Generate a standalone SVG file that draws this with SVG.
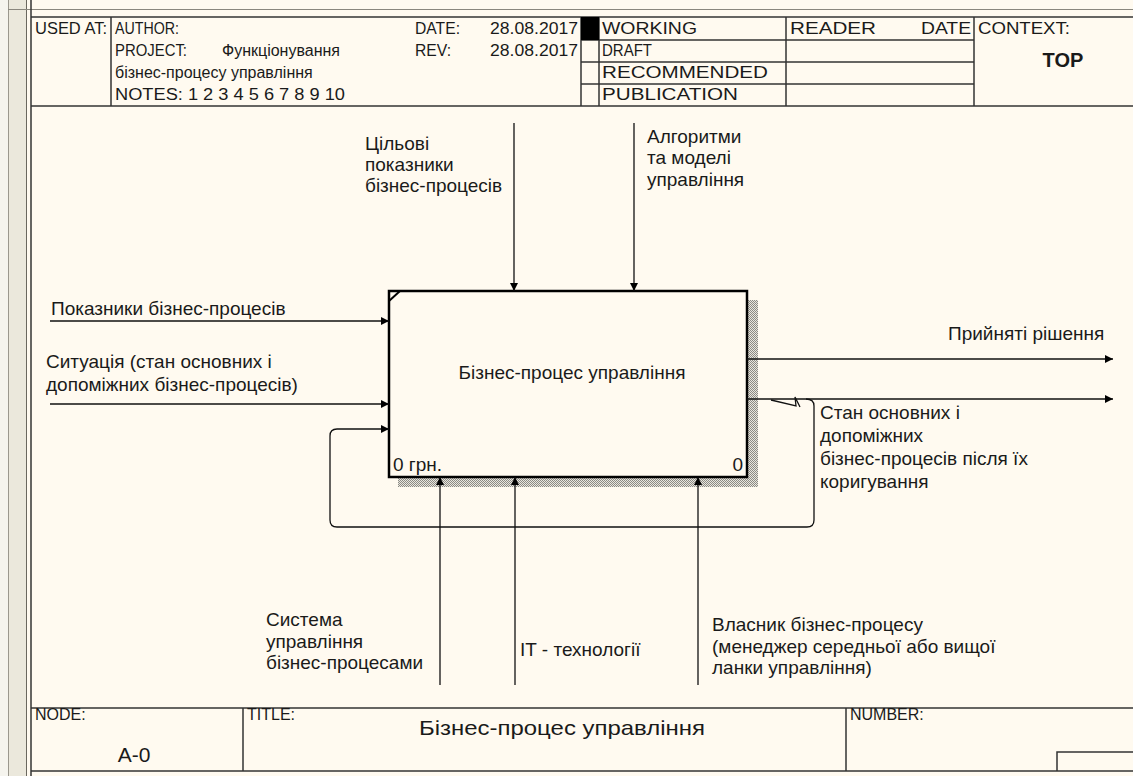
<svg xmlns="http://www.w3.org/2000/svg" width="1133" height="776" viewBox="0 0 1133 776">
<defs>
<style>
.t{font-family:"Liberation Sans",Arial,sans-serif;font-size:19px;fill:#1a1a1a}
.h{font-family:"Liberation Sans",Arial,sans-serif;font-size:16px;fill:#1a1a1a}
.fr{stroke:#333;stroke-width:1.5;fill:none}
.ar{stroke:#111;stroke-width:1.3;fill:none}
</style>
<marker id="ah" viewBox="0 0 10 10" refX="10" refY="5" markerWidth="9" markerHeight="8" markerUnits="userSpaceOnUse" orient="auto">
<path d="M0,0 L10,5 L0,10 Z" fill="#000"/>
</marker>
<pattern id="hatch" width="2" height="2" patternUnits="userSpaceOnUse">
<rect width="2" height="2" fill="#e8e6de"/>
<rect width="1" height="1" fill="#8c8a84"/>
<rect x="1" y="1" width="1" height="1" fill="#8c8a84"/>
</pattern>
</defs>

<rect width="1133" height="776" fill="#fffaf0"/>
<g id="window-edge">
<rect x="0" y="0" width="8" height="776" fill="#f5f4ee"/>
<rect x="9" y="0" width="17" height="776" fill="#ebe8dc"/>
<line x1="8.5" y1="0" x2="8.5" y2="776" stroke="#9a978e"/>
<line x1="26.5" y1="0" x2="26.5" y2="776" stroke="#6a675e"/>
<line x1="8" y1="9.5" x2="1133" y2="9.5" stroke="#8a877e"/>
<line x1="31" y1="0" x2="31" y2="776" stroke="#333" stroke-width="1.5"/>
</g>

<g id="header">
<line class="fr" x1="31" y1="17" x2="1133" y2="17"/>
<line class="fr" x1="31" y1="106" x2="1133" y2="106"/>
<line class="fr" x1="111" y1="17" x2="111" y2="106"/>
<line class="fr" x1="581" y1="17" x2="581" y2="106"/>
<line class="fr" x1="599" y1="17" x2="599" y2="106"/>
<line class="fr" x1="786" y1="17" x2="786" y2="106"/>
<line class="fr" x1="974" y1="17" x2="974" y2="106"/>
<line class="fr" x1="581" y1="40" x2="974" y2="40"/>
<line class="fr" x1="581" y1="62" x2="974" y2="62"/>
<line class="fr" x1="581" y1="84" x2="974" y2="84"/>
<rect x="581" y="17" width="18" height="23" fill="#000"/>
<text class="h" x="35" y="34" textLength="72" lengthAdjust="spacingAndGlyphs">USED AT:</text>
<text class="h" x="115" y="34" textLength="64" lengthAdjust="spacingAndGlyphs">AUTHOR:</text>
<text class="h" x="415" y="34" textLength="45" lengthAdjust="spacingAndGlyphs">DATE:</text>
<text class="h" x="490" y="34" textLength="88" lengthAdjust="spacingAndGlyphs">28.08.2017</text>
<text class="h" x="115" y="56" textLength="72" lengthAdjust="spacingAndGlyphs">PROJECT:</text>
<text class="h" x="222" y="56">Функціонування</text>
<text class="h" x="415" y="56" textLength="36" lengthAdjust="spacingAndGlyphs">REV:</text>
<text class="h" x="490" y="56" textLength="88" lengthAdjust="spacingAndGlyphs">28.08.2017</text>
<text class="h" x="115" y="78">бізнес-процесу управління</text>
<text class="h" x="115" y="100" textLength="230" lengthAdjust="spacingAndGlyphs">NOTES: 1 2 3 4 5 6 7 8 9 10</text>
<text class="h" x="602" y="34" textLength="95" lengthAdjust="spacingAndGlyphs">WORKING</text>
<text class="h" x="602" y="56" textLength="50" lengthAdjust="spacingAndGlyphs">DRAFT</text>
<text class="h" x="602" y="78" textLength="166" lengthAdjust="spacingAndGlyphs">RECOMMENDED</text>
<text class="h" x="602" y="100" textLength="136" lengthAdjust="spacingAndGlyphs">PUBLICATION</text>
<text class="h" x="790" y="34" textLength="86" lengthAdjust="spacingAndGlyphs">READER</text>
<text class="h" x="921" y="34" textLength="50" lengthAdjust="spacingAndGlyphs">DATE</text>
<text class="h" x="978" y="34" textLength="92" lengthAdjust="spacingAndGlyphs">CONTEXT:</text>
<text class="h" x="1063" y="67" text-anchor="middle" style="font-size:20px;font-weight:bold">TOP</text>
</g>

<g id="node-A0">
<rect x="398" y="300" width="360" height="187" fill="url(#hatch)"/>
<rect x="389" y="291" width="358" height="186" fill="#fffaf0" stroke="#000" stroke-width="2.5"/>
<line x1="389" y1="301" x2="400" y2="291" stroke="#000" stroke-width="2"/>
<text class="t" x="572" y="379" text-anchor="middle">Бізнес-процес управління</text>
<text class="t" x="393" y="471">0 грн.</text>
<text class="t" x="743" y="471" text-anchor="end">0</text>
</g>

<g id="connectors">
<line class="ar" x1="514" y1="123" x2="514" y2="291" marker-end="url(#ah)"/>
<line class="ar" x1="634" y1="123" x2="634" y2="291" marker-end="url(#ah)"/>
<line class="ar" x1="50" y1="321" x2="389" y2="321" marker-end="url(#ah)"/>
<line class="ar" x1="50" y1="404" x2="389" y2="404" marker-end="url(#ah)"/>
<line class="ar" x1="747" y1="359" x2="1113" y2="359" marker-end="url(#ah)"/>
<line class="ar" x1="747" y1="399" x2="1113" y2="399" marker-end="url(#ah)"/>
<path class="ar" d="M806 399 Q814 399 814 406 L814 520 Q814 527 807 527 L337 527 Q330 527 330 520 L330 436 Q330 429 337 429 L389 429" marker-end="url(#ah)"/>
<path class="ar" d="M771 400 L796 406 L795 397 L800 407"/>
<line class="ar" x1="440" y1="685" x2="440" y2="477" marker-end="url(#ah)"/>
<line class="ar" x1="515" y1="685" x2="515" y2="477" marker-end="url(#ah)"/>
<line class="ar" x1="698" y1="685" x2="698" y2="477" marker-end="url(#ah)"/>
</g>

<g id="labels">
<text class="t" x="365" y="150">Цільові</text>
<text class="t" x="365" y="171">показники</text>
<text class="t" x="365" y="192">бізнес-процесів</text>
<text class="t" x="647" y="143">Алгоритми</text>
<text class="t" x="647" y="164">та моделі</text>
<text class="t" x="647" y="186">управління</text>
<text class="t" x="51" y="315">Показники бізнес-процесів</text>
<text class="t" x="46" y="368">Ситуація (стан основних і</text>
<text class="t" x="46" y="391">допоміжних бізнес-процесів)</text>
<text class="t" x="948" y="340">Прийняті рішення</text>
<text class="t" x="820" y="419">Стан основних і</text>
<text class="t" x="820" y="442">допоміжних</text>
<text class="t" x="820" y="465">бізнес-процесів після їх</text>
<text class="t" x="820" y="488">коригування</text>
<text class="t" x="266" y="626">Система</text>
<text class="t" x="266" y="648">управління</text>
<text class="t" x="266" y="669">бізнес-процесами</text>
<text class="t" x="520" y="656">IT - технології</text>
<text class="t" x="712" y="631">Власник бізнес-процесу</text>
<text class="t" x="712" y="653">(менеджер середньої або вищої</text>
<text class="t" x="712" y="674">ланки управління)</text>
</g>

<g id="footer">
<line class="fr" x1="31" y1="708" x2="1133" y2="708"/>
<line class="fr" x1="31" y1="771" x2="1133" y2="771"/>
<line class="fr" x1="243" y1="708" x2="243" y2="771"/>
<line class="fr" x1="846" y1="708" x2="846" y2="771"/>
<polyline class="fr" points="1057,771 1057,752 1133,752"/>
<text class="h" x="35" y="720">NODE:</text>
<text class="h" x="134" y="762" text-anchor="middle" style="font-size:21px">A-0</text>
<text class="h" x="247" y="720">TITLE:</text>
<text class="h" x="562" y="735" text-anchor="middle" textLength="286" lengthAdjust="spacingAndGlyphs" style="font-size:21px">Бізнес-процес управління</text>
<text class="h" x="850" y="720">NUMBER:</text>
</g>
</svg>
